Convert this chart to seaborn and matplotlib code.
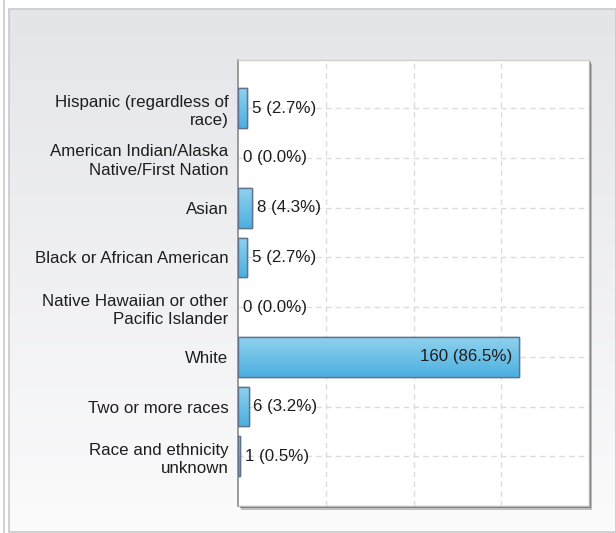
import numpy as np
import pandas as pd
import matplotlib
matplotlib.use('Agg')
import matplotlib.pyplot as plt
import seaborn as sns
from matplotlib.patches import Rectangle

# chart data
categories = ['Hispanic (regardless of\nrace)',
              'American Indian/Alaska\nNative/First Nation',
              'Asian',
              'Black or African American',
              'Native Hawaiian or other\nPacific Islander',
              'White',
              'Two or more races',
              'Race and ethnicity\nunknown']
counts = [5, 0, 8, 5, 0, 160, 6, 1]
percents = [2.7, 0.0, 4.3, 2.7, 0.0, 86.5, 3.2, 0.5]

df = pd.DataFrame({'category': categories, 'count': counts, 'pct': percents})

sns.set_style('white')
plt.rcParams['font.family'] = ['Liberation Sans', 'DejaVu Sans']
FS = 12.2

fig = plt.figure(figsize=(6.16, 5.33), dpi=100)
W, H = 616, 533

# background panel with a soft vertical gradient
bg = fig.add_axes([0, 0, 1, 1])
bg.set_xlim(0, W)
bg.set_ylim(H, 0)
bg.axis('off')
grad = np.linspace(0, 1, 256).reshape(-1, 1)
top_c = np.array([0.894, 0.898, 0.914])
bot_c = np.array([0.985, 0.985, 0.988])
img = top_c + (bot_c - top_c) * grad
bg.imshow(img[:, None, :].repeat(2, axis=1), extent=[9, W, 532, 9], aspect='auto', zorder=0)
bg.add_patch(Rectangle((9, 9), W - 9, 523, fill=False, edgecolor='#c9c9cc', lw=1.2, zorder=1))
bg.plot([4, 4], [0, H], color='#c9c9cc', lw=1.2, zorder=1)
# shadow of the plot frame
bg.add_patch(Rectangle((241, 64), 351, 446, facecolor='#9a9a9a', edgecolor='none', alpha=0.6, zorder=1))
bg.add_patch(Rectangle((240, 62), 351, 446, facecolor='#6e6e6e', edgecolor='none', alpha=0.9, zorder=1))

ax = fig.add_axes([238 / W, 1 - 506 / H, 351 / W, 446 / H])
ax.set_facecolor('white')

sns.barplot(data=df, x='count', y='category', orient='h', ax=ax,
            color='#5cbce6', edgecolor='#5f7390', linewidth=1.0, width=0.8, zorder=3)

# gradient fill on the bars
bar_grad = np.linspace(0, 1, 64).reshape(-1, 1)
light = np.array([0.56, 0.82, 0.93])
dark = np.array([0.30, 0.69, 0.88])
bar_img = light + (dark - light) * bar_grad
for p in ax.patches:
    if p.get_width() <= 0:
        p.set_visible(False)
        continue
    x0, y0 = p.get_x(), p.get_y()
    w, h = p.get_width(), p.get_height()
    im = ax.imshow(bar_img[:, None, :].repeat(2, axis=1),
                   extent=[x0, x0 + w, y0 + h, y0], aspect='auto', zorder=3.5)
    im.set_clip_path(p)
    edge = Rectangle((x0, y0), w, h, fill=False, edgecolor='#5f7390', lw=1.0, zorder=4)
    ax.add_patch(edge)

ax.set_xlim(0, 200)
ax.set_ylim(8.0, -0.97)
ax.set_xticks([50, 100, 150])
ax.set_xticklabels([])
ax.xaxis.grid(True, linestyle=(0, (4, 3)), color='#dcdcdc', lw=1.0, zorder=0)
ax.yaxis.grid(True, linestyle=(0, (4, 3)), color='#dcdcdc', lw=1.0, zorder=0)
ax.tick_params(axis='x', length=0)
ax.tick_params(axis='y', length=5, width=1, color='#8a8a8a', direction='out',
               labelsize=FS, labelcolor='#1e1e1e', pad=2)
ax.set_yticks([-0.97, 8.0], minor=True)
ax.tick_params(axis='y', which='minor', length=5, width=1, color='#8a8a8a', direction='out')
ax.set_xlabel('')
ax.set_ylabel('')
for lab in ax.get_yticklabels():
    lab.set_horizontalalignment('right')
    lab.set_multialignment('right')
    lab.set_linespacing(1.3)

ax.spines['top'].set_color('#d0d0d0')
ax.spines['top'].set_linewidth(1.0)
for s in ['right', 'bottom']:
    ax.spines[s].set_color('#b8b8b8')
    ax.spines[s].set_linewidth(1.0)
ax.spines['left'].set_color('#8a8a8a')
ax.spines['left'].set_linewidth(1.2)

# value labels
for i, (c, pc) in enumerate(zip(counts, percents)):
    txt = f'{c} ({pc:.1f}%)'
    if c > 100:
        ax.text(c - 4, i, txt, va='center', ha='right', fontsize=FS, color='#1e1e1e', zorder=5)
    else:
        ax.text(c + 2.8, i, txt, va='center', ha='left', fontsize=FS, color='#1e1e1e', zorder=5)

fig.savefig('out.png', dpi=100)
